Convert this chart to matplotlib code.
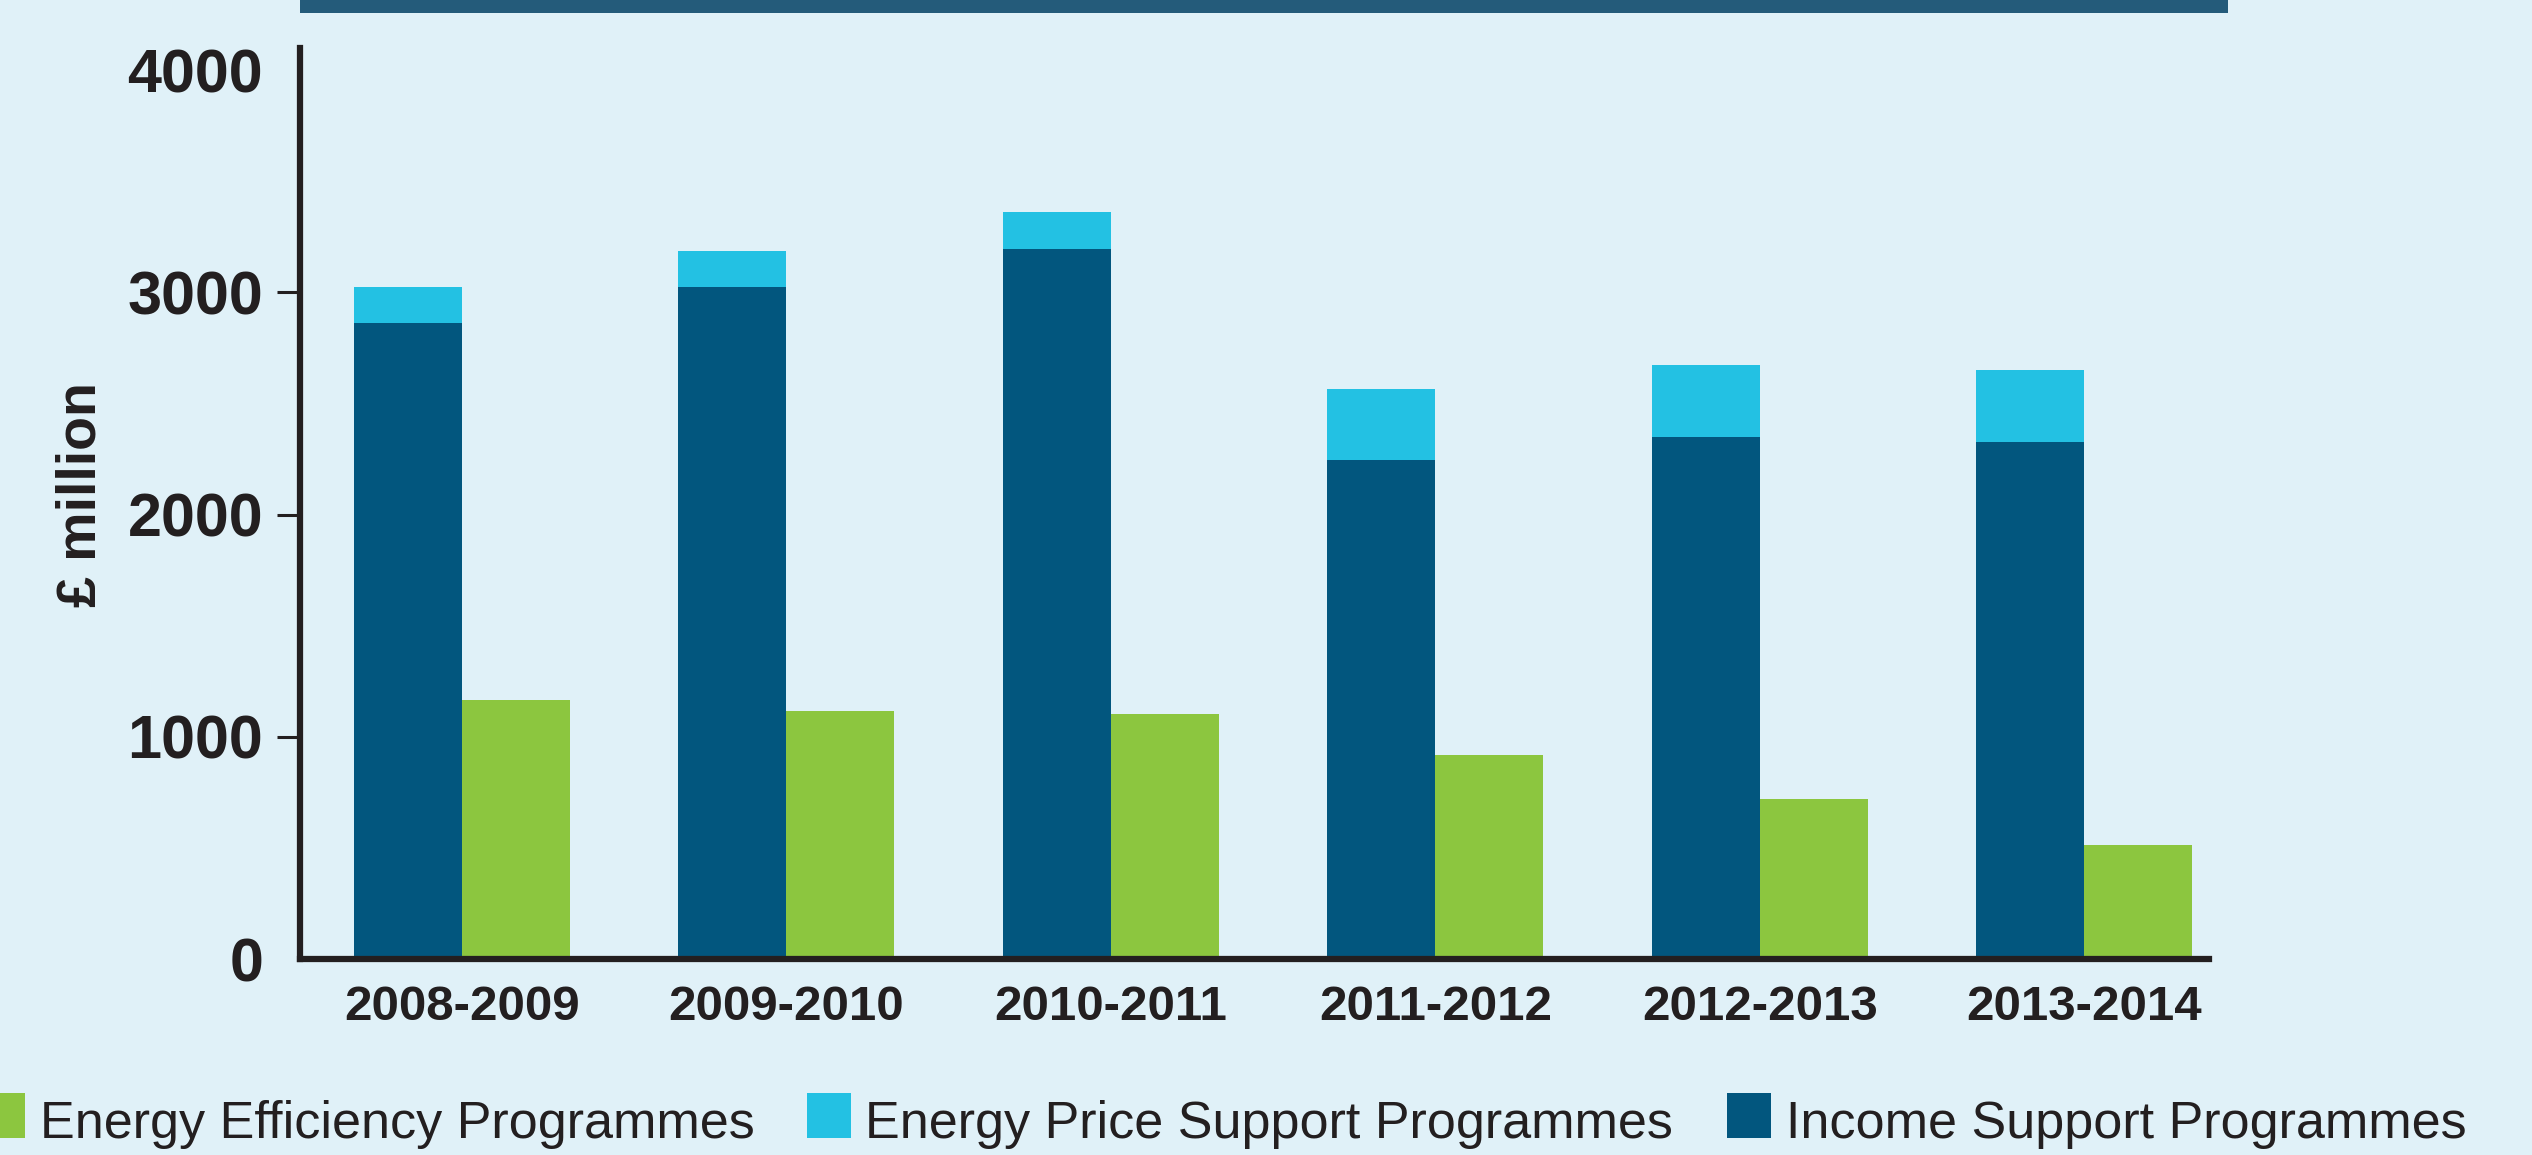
import matplotlib.pyplot as plt
from matplotlib.patches import Rectangle
import numpy as np

# Chart data (values in £ million)
years = ['2008-2009', '2009-2010', '2010-2011', '2011-2012', '2012-2013', '2013-2014']
income_support = [2864, 3026, 3197, 2244, 2348, 2325]
price_support = [162, 162, 167, 323, 324, 324]
efficiency = [1167, 1118, 1104, 916, 718, 512]
y_ticks = [0, 1000, 2000, 3000, 4000]
legend_labels = ['Energy Efficiency Programmes', 'Energy Price Support Programmes',
                 'Income Support Programmes']

bg = '#E0F1F8'
dark = '#02567E'
cyan = '#23C1E3'
green = '#8CC63F'
ink = '#231F20'

plt.rcParams['font.family'] = ['Liberation Sans', 'DejaVu Sans']

W, H = 2532, 1155
fig = plt.figure(figsize=(W / 100, H / 100), dpi=100, facecolor=bg)
ax = fig.add_axes([300 / W, 1 - 959 / H, (2209 - 300) / W, (959 - 48) / H])
ax.set_facecolor(bg)

x = np.arange(len(years))
w = 0.333
ax.bar(x - w / 2, income_support, w, color=dark, linewidth=0)
ax.bar(x - w / 2, price_support, w, bottom=income_support, color=cyan, linewidth=0)
ax.bar(x + w / 2, efficiency, w, color=green, linewidth=0)

ax.set_xlim(-0.4994, 5.385)
ax.set_ylim(0, 4100)
ax.set_xticks(x)
ax.set_xticklabels(years, fontsize=35.5, fontweight='bold', color=ink)
ax.set_yticks(y_ticks)
ax.set_yticklabels([str(v) for v in y_ticks], fontsize=44, fontweight='bold', color=ink)
ax.tick_params(axis='x', length=0, pad=19)
ax.tick_params(axis='y', length=16.5, width=2.2, color=ink, pad=10)
ax.yaxis.get_major_ticks()[0].tick1line.set_visible(False)
ax.yaxis.get_major_ticks()[-1].tick1line.set_visible(False)

for s in ['top', 'right']:
    ax.spines[s].set_visible(False)
for s in ['left', 'bottom']:
    ax.spines[s].set_linewidth(4.5)
    ax.spines[s].set_color(ink)

ax.set_ylabel('£ million', fontsize=40, fontweight='bold', color=ink, va='center')
ax.yaxis.set_label_coords(-0.1147, 0.51)

# dark strip across the top
fig.add_artist(Rectangle((300 / W, 1 - 12.7 / H), (2228 - 300) / W, 12.7 / H,
                         transform=fig.transFigure, color='#245B7A', lw=0))

# legend row along the bottom
patch_x = [-19, 807, 1727]
text_x = [40, 865, 1786]
colors = [green, cyan, dark]
base = 1 - 1138 / H
for px, tx, c, lab in zip(patch_x, text_x, colors, legend_labels):
    fig.add_artist(Rectangle((px / W, base), 44 / W, 45 / H,
                             transform=fig.transFigure, color=c, lw=0))
    fig.text(tx / W, base, lab, fontsize=37.5, color=ink, va='baseline', ha='left')

fig.savefig('out.png', dpi=100, facecolor=bg)
